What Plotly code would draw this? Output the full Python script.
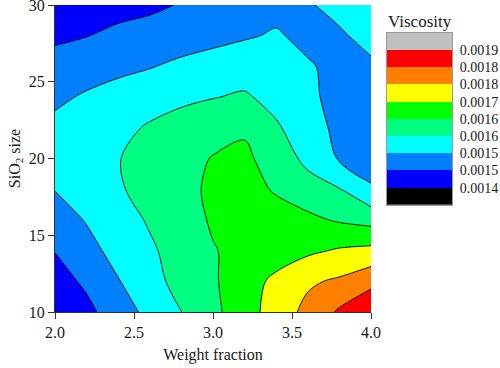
import plotly.graph_objects as go

# ---- data ----
weight_fraction = [2.0, 2.2, 2.4, 2.6, 2.8, 3.0, 3.2, 3.4, 3.6, 3.8, 4.0]
sio2_size = [10, 12, 14, 16, 18, 20, 22, 24, 26, 28, 30]
viscosity = [
    [0.0014478, 0.0014790, 0.0015190, 0.0015580, 0.0015955, 0.0016355, 0.0016782, 0.0017229, 0.0017666, 0.0018118, 0.0018508],
    [0.0014712, 0.0015008, 0.0015414, 0.0015794, 0.0016121, 0.0016415, 0.0016787, 0.0017109, 0.0017442, 0.0017598, 0.0017884],
    [0.0014936, 0.0015284, 0.0015601, 0.0015887, 0.0016168, 0.0016454, 0.0016615, 0.0016761, 0.0016906, 0.0017052, 0.0017130],
    [0.0015206, 0.0015471, 0.0015747, 0.0016012, 0.0016272, 0.0016532, 0.0016662, 0.0016688, 0.0016584, 0.0016428, 0.0016308],
    [0.0015456, 0.0015669, 0.0015908, 0.0016132, 0.0016350, 0.0016558, 0.0016662, 0.0016428, 0.0016204, 0.0015981, 0.0015492],
    [0.0015674, 0.0015804, 0.0015944, 0.0016116, 0.0016298, 0.0016506, 0.0016558, 0.0016298, 0.0015809, 0.0015393, 0.0015232],
    [0.0015570, 0.0015700, 0.0015830, 0.0016012, 0.0016168, 0.0016272, 0.0016428, 0.0016012, 0.0015721, 0.0015284, 0.0015102],
    [0.0015336, 0.0015502, 0.0015648, 0.0015752, 0.0015856, 0.0015944, 0.0016012, 0.0015820, 0.0015596, 0.0015196, 0.0015076],
    [0.0015086, 0.0015206, 0.0015310, 0.0015414, 0.0015544, 0.0015700, 0.0015752, 0.0015674, 0.0015492, 0.0015294, 0.0015362],
    [0.0014842, 0.0014904, 0.0015112, 0.0015180, 0.0015206, 0.0015258, 0.0015388, 0.0015492, 0.0015305, 0.0015378, 0.0015591],
    [0.0014556, 0.0014582, 0.0014634, 0.0014790, 0.0014962, 0.0015076, 0.0015180, 0.0015284, 0.0015398, 0.0015580, 0.0015700],
]
level_start = 0.00144
level_end = 0.001856
level_step = 0.000052
legend_labels = ["0.0014", "0.0015", "0.0015", "0.0016", "0.0016",
                 "0.0017", "0.0018", "0.0018", "0.0019"]
band_colors = ["#000000", "#0000FF", "#0080FF", "#00FFFF", "#00FF80",
               "#00FF00", "#FFFF00", "#FF8000", "#FF0000", "#C0C0C0"]
x_ticks = [2.0, 2.5, 3.0, 3.5, 4.0]
x_ticktext = ["2.0", "2.5", "3.0", "3.5", "4.0"]
y_ticks = [10, 15, 20, 25, 30]

n = len(band_colors)
colorscale = [[i / (n - 1), c] for i, c in enumerate(band_colors)]

FONT = "Liberation Serif"
TXT = "#1a1a1a"

fig = go.Figure()
fig.add_trace(go.Contour(
    x=weight_fraction, y=sio2_size, z=viscosity,
    colorscale=colorscale, showscale=False,
    contours=dict(start=level_start, end=level_end, size=level_step,
                  coloring="fill", showlines=True),
    line=dict(color="black", width=0.9),
    hoverinfo="skip",
))

# legend boxes
fig.add_trace(go.Heatmap(
    x=[0], y=list(range(n)), z=[[i] for i in range(n)],
    colorscale=colorscale, zmin=0, zmax=n - 1, showscale=False,
    xaxis="x2", yaxis="y2", hoverinfo="skip",
))

W, H = 500, 368
ml, mr, mt, mb = 55, 48, 5, 56
pw = W - ml - mr
ph = H - mt - mb

def px_x(p):
    return (p - ml) / pw

def px_y(p):
    return (H - mb - p) / ph

fig.update_layout(
    width=W, height=H,
    margin=dict(l=ml, r=mr, t=mt, b=mb, autoexpand=False),
    paper_bgcolor="white", plot_bgcolor="white",
    font=dict(family=FONT, size=16, color=TXT),
    xaxis=dict(domain=[0, px_x(371)], range=[2, 4], tickvals=x_ticks,
               ticktext=x_ticktext, ticks="outside", ticklen=6, tickwidth=1,
               tickcolor="#333", showline=True, linecolor="#333", linewidth=1,
               showgrid=False, zeroline=False, automargin=False,
               ticklabeloverflow="allow", tickfont=dict(size=16),
               title=dict(text="Weight fraction", font=dict(size=16), standoff=8),
               anchor="y"),
    yaxis=dict(domain=[0, 1], range=[10, 30], tickvals=y_ticks,
               ticks="outside", ticklen=6, tickwidth=1, tickcolor="#333",
               showline=True, linecolor="#333", linewidth=1,
               showgrid=False, zeroline=False, automargin=False,
               ticklabeloverflow="allow", tickfont=dict(size=16),
               title=dict(text="SiO<sub>2</sub> size", font=dict(size=16), standoff=4),
               anchor="x"),
    xaxis2=dict(domain=[px_x(387), px_x(452)], range=[-0.5, 0.5],
                showticklabels=False, ticks="", showgrid=False, zeroline=False,
                showline=True, mirror=True, linecolor="#9a9a9a", linewidth=1,
                automargin=False, anchor="y2"),
    yaxis2=dict(domain=[px_y(205), px_y(32.7)], range=[-0.5, n - 0.5],
                tickvals=[i + 0.5 for i in range(n - 1)], ticktext=legend_labels,
                side="right", ticks="", showgrid=False, zeroline=False,
                showline=True, mirror=True, linecolor="#9a9a9a", linewidth=1,
                tickfont=dict(size=14), ticklabelstandoff=4,
                automargin=False, ticklabeloverflow="allow", anchor="x2"),
    annotations=[dict(text="Viscosity", x=px_x(386), y=px_y(21), xref="paper",
                      yref="paper", xanchor="left", yanchor="middle",
                      showarrow=False, font=dict(size=17, color=TXT))],
)

fig.write_html("out.html", config={"displayModeBar": False},
               post_script="document.body.style.margin='0';document.body.style.padding='0';")
